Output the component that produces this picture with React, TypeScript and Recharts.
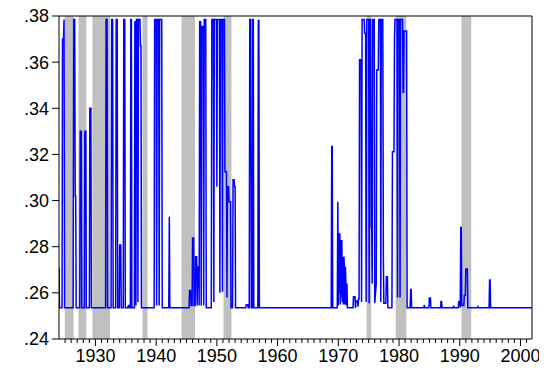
import { LineChart, Line, XAxis, YAxis, ReferenceArea, ReferenceLine } from 'recharts';

// observation dates (decimal years) and the series value at each one
const dates = [
  1924.00, 1924.08, 1924.50, 1924.58, 1924.75, 1924.83, 1924.92,
  1926.33, 1926.42, 1926.58, 1926.67, 1926.75, 1926.83,
  1927.42, 1927.50, 1927.67, 1927.75,
  1928.17, 1928.25, 1928.42, 1928.50,
  1929.00, 1929.08, 1929.25, 1929.33,
  1931.67, 1931.75, 1931.92, 1932.00,
  1932.58, 1932.67, 1932.83, 1932.92,
  1933.33, 1933.42, 1933.58, 1933.67,
  1933.92, 1934.00, 1934.17, 1934.25,
  1934.58, 1934.67, 1934.83, 1934.92,
  1935.33, 1935.42, 1935.50, 1935.58,
  1935.75, 1935.83, 1935.92, 1936.00,
  1936.42, 1936.50, 1936.58, 1936.67, 1936.75, 1936.92, 1937.00, 1937.08, 1937.33, 1937.42, 1937.50, 1937.58,
  1939.67, 1939.75, 1940.00, 1940.08, 1940.17, 1940.42, 1940.50, 1940.58, 1940.92, 1941.00,
  1942.08, 1942.17, 1942.25,
  1945.42, 1945.50, 1945.67, 1945.75, 1945.92, 1946.00, 1946.17, 1946.25, 1946.42, 1946.50, 1946.67, 1946.75,
  1946.83, 1947.00, 1947.08, 1947.17, 1947.33, 1947.42, 1947.50, 1947.75, 1947.83, 1947.92, 1948.17, 1948.25,
  1949.08, 1949.17, 1949.42, 1949.50, 1949.58, 1949.92, 1950.00, 1950.08, 1950.42, 1950.50, 1950.58, 1950.83,
  1950.92, 1951.00, 1951.25, 1951.33, 1951.58, 1951.67, 1951.75, 1951.92, 1952.00, 1952.25, 1952.33,
  1952.58, 1952.67, 1952.83, 1952.92, 1953.00, 1953.08,
  1954.75, 1954.83, 1955.08, 1955.17,
  1955.33, 1955.42, 1955.58, 1955.67,
  1955.83, 1955.92, 1956.00, 1956.08,
  1956.75, 1956.83, 1956.92, 1957.00,
  1968.83, 1968.92, 1969.00, 1969.08,
  1969.83, 1969.92, 1970.00, 1970.08, 1970.17, 1970.25, 1970.33, 1970.42, 1970.50, 1970.58, 1970.67,
  1970.75, 1970.83, 1970.92, 1971.00, 1971.08, 1971.17, 1971.25, 1971.33, 1971.42, 1971.50,
  1972.42, 1972.50, 1972.75, 1972.83, 1972.92, 1973.17, 1973.25, 1973.33, 1973.42,
  1973.50, 1973.75, 1973.83, 1973.92, 1974.25, 1974.33, 1974.50, 1974.58, 1974.67, 1975.00, 1975.08,
  1975.17, 1975.33, 1975.42, 1975.50, 1975.58, 1975.67, 1975.92, 1976.00, 1976.25, 1976.33, 1976.58,
  1976.67, 1976.92, 1977.00, 1977.08, 1977.33, 1977.42, 1977.50, 1977.83, 1977.92, 1978.08, 1978.17,
  1978.83, 1978.92, 1979.17, 1979.25, 1979.33, 1979.67, 1979.75, 1979.83, 1980.08, 1980.17, 1980.25,
  1980.58, 1980.67, 1980.75, 1980.83, 1981.25, 1981.33,
  1981.83, 1981.92, 1982.00, 1982.08,
  1984.08, 1984.17, 1984.25,
  1984.92, 1985.00, 1985.17, 1985.25,
  1986.83, 1986.92, 1987.00, 1987.08,
  1988.92, 1989.00, 1989.08,
  1989.75, 1989.83, 1990.00, 1990.08, 1990.17, 1990.25, 1990.33, 1990.67, 1990.75, 1990.92, 1991.00, 1991.25, 1991.33,
  1992.92, 1993.00, 1993.08,
  1994.83, 1994.92, 1995.00, 1995.08,
  2001.92,
];

const rates = [
  0.271, 0.2535, 0.2535, 0.370, 0.370, 0.3785, 0.2535,
  0.2535, 0.3785, 0.3785, 0.302, 0.302, 0.2535,
  0.2535, 0.330, 0.330, 0.2535,
  0.2535, 0.330, 0.330, 0.2535,
  0.2535, 0.340, 0.340, 0.2535,
  0.2535, 0.3785, 0.3785, 0.2535,
  0.2535, 0.3785, 0.3785, 0.2535,
  0.2535, 0.3785, 0.3785, 0.2535,
  0.2535, 0.2807, 0.2807, 0.2535,
  0.2535, 0.3785, 0.3785, 0.2535,
  0.2535, 0.2545, 0.2545, 0.2535,
  0.2535, 0.3785, 0.3785, 0.2535,
  0.2535, 0.3775, 0.3775, 0.2545, 0.3785, 0.3785, 0.256, 0.3785, 0.3785, 0.367, 0.367, 0.2535,
  0.2535, 0.3785, 0.3785, 0.2545, 0.3785, 0.3785, 0.2545, 0.3785, 0.3785, 0.2535,
  0.2535, 0.293, 0.2535,
  0.2535, 0.261, 0.261, 0.2545, 0.2545, 0.2838, 0.2838, 0.2545, 0.2545, 0.2757, 0.2757, 0.2545,
  0.2713, 0.2713, 0.2545, 0.3775, 0.3775, 0.2545, 0.3754, 0.3754, 0.2545, 0.3785, 0.3785, 0.2535,
  0.2535, 0.3785, 0.3785, 0.256, 0.3785, 0.3785, 0.306, 0.3785, 0.3785, 0.260, 0.3785, 0.3785,
  0.2605, 0.3785, 0.3785, 0.3125, 0.3125, 0.258, 0.306, 0.306, 0.2995, 0.2995, 0.2535,
  0.2535, 0.309, 0.309, 0.306, 0.306, 0.2535,
  0.2535, 0.2548, 0.2548, 0.2535,
  0.2535, 0.3785, 0.3785, 0.2535,
  0.2535, 0.3785, 0.3785, 0.2535,
  0.2535, 0.378, 0.378, 0.2535,
  0.2535, 0.3234, 0.3234, 0.2535,
  0.2535, 0.2995, 0.2545, 0.2858, 0.260, 0.2858, 0.255, 0.2829, 0.258, 0.2829, 0.256,
  0.2757, 0.255, 0.2757, 0.2713, 0.255, 0.2713, 0.2641, 0.2545, 0.2641, 0.2535,
  0.2535, 0.2583, 0.2583, 0.2535, 0.2565, 0.2565, 0.254, 0.2575, 0.2575,
  0.361, 0.361, 0.256, 0.3785, 0.3785, 0.3725, 0.3725, 0.256, 0.3785, 0.3785, 0.2555,
  0.3785, 0.3785, 0.2883, 0.2883, 0.264, 0.3785, 0.3785, 0.2555, 0.264, 0.3566, 0.3566,
  0.3785, 0.3785, 0.256, 0.3785, 0.3785, 0.2757, 0.2555, 0.2555, 0.267, 0.267, 0.2535,
  0.2535, 0.3212, 0.3212, 0.3703, 0.3785, 0.3785, 0.258, 0.3785, 0.3785, 0.258, 0.3785,
  0.3785, 0.347, 0.347, 0.3735, 0.3735, 0.2535,
  0.2535, 0.2615, 0.2615, 0.2535,
  0.2535, 0.2548, 0.2535,
  0.2535, 0.2578, 0.2578, 0.2535,
  0.2535, 0.2562, 0.2562, 0.2535,
  0.2535, 0.2545, 0.2535,
  0.2535, 0.2562, 0.2562, 0.2535, 0.2883, 0.2883, 0.2545, 0.2545, 0.259, 0.259, 0.2703, 0.2703, 0.2535,
  0.2535, 0.2540, 0.2535,
  0.2535, 0.2656, 0.2656, 0.2535,
  0.2535,
];

// shaded periods
const bandStarts = [1924.96, 1927.2, 1929.5, 1937.75, 1944.2, 1951.1, 1974.66, 1979.45, 1990.3];
const bandEnds = [1926.4, 1928.5, 1932.4, 1938.58, 1946.4, 1952.4, 1975.43, 1981.2, 1991.9];

const yTicks = [0.24, 0.26, 0.28, 0.30, 0.32, 0.34, 0.36, 0.38];
const xTicks = Array.from({ length: 77 }, (_, i) => 1925 + i);

const data = dates.map((t, i) => ({ t, v: rates[i] }));

const YearTick = (props: any) => {
  const { x, y, payload } = props;
  const decade = payload.value % 10 === 0;
  return (
    <g>
      <line x1={x} x2={x} y1={y} y2={y + (decade ? 7 : 4)} stroke='#000' />
      {decade && (
        <text x={x} y={y + 23} textAnchor='middle' fontSize={18} fill='#000'>
          {payload.value}
        </text>
      )}
    </g>
  );
};

export default function App() {
  return (
    <div style={{ fontFamily: '"Liberation Sans", Arial, sans-serif', marginTop: -8 }}>
      <LineChart width={539} height={368} data={data} margin={{ top: 16, right: 15, left: 0, bottom: 0 }}>
        {bandStarts.map((s, i) => (
          <ReferenceArea
            key={s}
            x1={s}
            x2={bandEnds[i]}
            y1={0.24}
            y2={0.38}
            fill='#c0c0c0'
            fillOpacity={1}
            stroke='none'
          />
        ))}
        <XAxis
          dataKey='t'
          type='number'
          domain={[1924, 2001.9]}
          allowDataOverflow
          ticks={xTicks}
          interval={0}
          tick={<YearTick />}
          tickLine={false}
          tickSize={0}
          tickMargin={0}
          height={29}
          axisLine={{ stroke: '#000' }}
        />
        <YAxis
          type='number'
          domain={[0.24, 0.38]}
          allowDataOverflow
          ticks={yTicks}
          interval={0}
          width={51}
          tickSize={7}
          tickMargin={3}
          tickFormatter={(v: number) => v.toFixed(2).replace(/^0/, '')}
          tick={{ fontSize: 18, fill: '#000' }}
          tickLine={{ stroke: '#000' }}
          axisLine={{ stroke: '#000' }}
        />
        <ReferenceLine y={0.38} stroke='#000' ifOverflow='visible' />
        <ReferenceLine x={2001.9} stroke='#000' ifOverflow='visible' />
        <Line
          type='linear'
          dataKey='v'
          stroke='#0000ff'
          strokeWidth={1.5}
          dot={false}
          isAnimationActive={false}
        />
      </LineChart>
    </div>
  );
}
